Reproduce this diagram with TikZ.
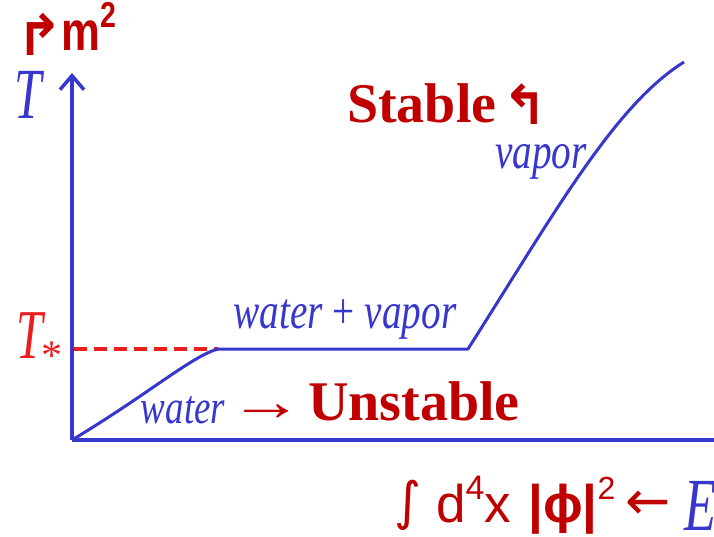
\documentclass[tikz,border=0pt]{standalone}
\usepackage{fontspec}
\setmainfont{Liberation Serif}
\newfontfamily\sansf{Liberation Sans}
\newfontfamily\djv{DejaVu Sans}
\usetikzlibrary{arrows.meta}
\definecolor{pblue}{RGB}{55,55,205}
\definecolor{dred}{RGB}{192,0,0}
\definecolor{bred}{RGB}{235,30,30}
\newcommand\sqz[1]{\scalebox{0.77}[1]{#1}}
\tikzset{
  axisline/.style={draw=pblue, line width=3.5pt, line cap=butt},
  curveline/.style={draw=pblue, line width=3pt, line join=round},
  dashline/.style={draw=bred, line width=4pt, dash pattern=on 13pt off 7pt},
  bluelab/.style={text=pblue, inner sep=0pt, font=\itshape},
  redlab/.style={text=dred, inner sep=0pt, font=\bfseries},
  redsans/.style={text=dred, inner sep=0pt, font=\sansf},
}
\begin{document}
\begin{tikzpicture}[x=1pt,y=-1pt]
\clip (0,0) rectangle (714,536);
\fill[white] (0,0) rectangle (714,536);
% coordinates
\coordinate (O) at (72,440);
\coordinate (Ytop) at (72,73);
\coordinate (Xend) at (745,440);
\coordinate (Tleft) at (74,349);
\coordinate (A) at (218,349);
\coordinate (B) at (468,349);
\coordinate (C) at (684,62);
% axes
\draw[axisline, -{Straight Barb[length=14pt,width=24pt]}] (O) -- (Ytop);
\draw[axisline, -{Straight Barb[length=14pt,width=24pt]}] (O) -- (Xend);
% dashed
\draw[dashline] (Tleft) -- (A);
% curve
\draw[curveline] (O) .. controls (150,393) and (192,356) .. (A) -- (B)
  .. controls (555,212) and (615,105) .. (C);
% labels
\node[bluelab, anchor=base] (T) at (28,118) {\fontsize{72}{72}\selectfont\scalebox{0.68}[1]{T}};
\node[text=bred, inner sep=0pt, anchor=base] (Ts) at (30,358) {\fontsize{70}{70}\selectfont\itshape\scalebox{0.68}[1]{T}};
\node[text=bred, inner sep=0pt, anchor=base] (ast) at (52,369) {\fontsize{42}{42}\selectfont *};
\node[bluelab, anchor=base] (wv) at (345,328) {\fontsize{51}{51}\selectfont\sqz{water \upshape+\itshape{} vapor}};
\node[bluelab, anchor=base] (w) at (183,423) {\fontsize{48}{48}\selectfont\sqz{water}};
\node[bluelab, anchor=base] (v) at (541,168) {\fontsize{51}{51}\selectfont\sqz{vapor}};
\node[text=dred, inner sep=0pt, anchor=base west] (arr) at (229,420) {\fontsize{55}{55}\selectfont\scalebox{1.35}[1]{→}};
\node[redlab, anchor=base west] (U) at (308,420) {\fontsize{56}{56}\selectfont Unstable};
\node[redlab, anchor=base west] (S) at (347,122) {\fontsize{56}{56}\selectfont Stable};
\node[text=dred, inner sep=0pt] (la) at (525,104) {\djv\bfseries\fontsize{54}{54}\selectfont ↰};
\node[text=dred, inner sep=0pt] (ra) at (40,34) {\djv\bfseries\fontsize{56}{56}\selectfont ↱};
\node[text=dred, inner sep=0pt, anchor=base west] (m) at (61,50) {\sansf\bfseries\fontsize{46}{46}\selectfont\scalebox{0.95}[1.2]{m\raisebox{0.4em}{\fontsize{30}{30}\selectfont 2}}};
\node[text=dred, inner sep=0pt] (int) at (408,505) {\djv\fontsize{52}{52}\selectfont ∫};
\node[redsans, anchor=base west] (d4x) at (436,522) {\fontsize{53}{53}\selectfont d\raisebox{0.42em}{\fontsize{34}{34}\selectfont 4}x};
\node[redsans, anchor=base west] (phi) at (528,522) {\fontsize{53}{53}\selectfont{\bfseries|ϕ|}\raisebox{0.42em}{\fontsize{32}{32}\selectfont 2}};
\node[text=dred, inner sep=0pt] (larr) at (648,505) {\djv\fontsize{54}{54}\selectfont ←};
\node[bluelab, anchor=base west] (E) at (684,530) {\fontsize{75}{75}\selectfont\scalebox{0.7}[1]{E}};
\end{tikzpicture}
\end{document}
